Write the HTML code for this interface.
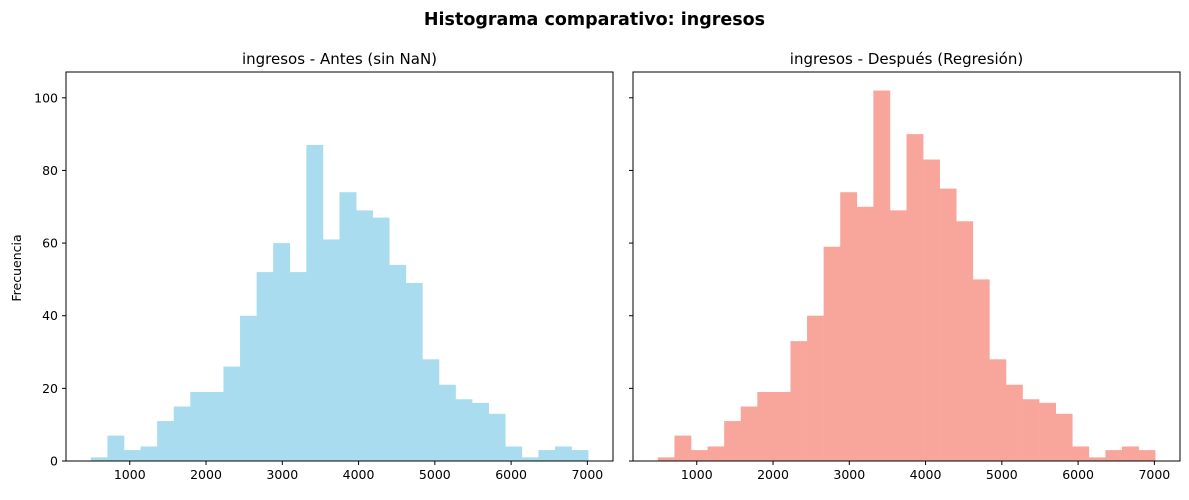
<!DOCTYPE html>
<html><head><meta charset="utf-8"><style>
body{margin:0;background:#fff;font-family:"Liberation Sans","DejaVu Sans",sans-serif}
svg text{font-family:"DejaVu Sans","Liberation Sans",sans-serif}
</style></head><body>
<svg id="fig" width="1189" height="495" viewBox="0 0 1189 495">
<rect width="1189" height="495" fill="#fff"/>
<text x="594.5" y="25" text-anchor="middle" font-size="17.5" font-weight="bold">Histograma comparativo: ingresos</text>
<text transform="translate(21,268) rotate(-90)" text-anchor="middle" font-size="12.5">Frecuencia</text>
</svg>
<script>
const binStart = 490;
const binEnd = 7010;
const countsBefore = [1,7,3,4,11,15,19,19,26,40,52,60,52,87,61,74,69,67,54,49,28,21,17,16,13,4,1,3,4,3];
const countsAfter = [1,7,3,4,11,15,19,19,33,40,59,74,70,102,69,90,83,75,66,50,28,21,17,16,13,4,1,3,4,3];
const xTicks = [1000,2000,3000,4000,5000,6000,7000];
const yTicks = [0,20,40,60,80,100];
const titles = ["ingresos - Antes (sin NaN)","ingresos - Después (Regresión)"];

const SVGNS="http://www.w3.org/2000/svg";
const figSvg=document.getElementById('fig');
function mk(tag,attrs,parent){const e=document.createElementNS(SVGNS,tag);for(const k in attrs)e.setAttribute(k,attrs[k]);(parent||figSvg).appendChild(e);return e;}
const yMaxV=107.1, plotTop=72, plotBottom=461;
const xMarginV=(binEnd-binStart)*0.05;
const xMinV=binStart-xMarginV, xMaxV=binEnd+xMarginV;
function drawPanel(idx,left,right,counts,color,showLabels){
  const g=mk('g',{});
  
  
  const xs=v=>left+(v-xMinV)/(xMaxV-xMinV)*(right-left);
  const ys=v=>plotBottom-v/yMaxV*(plotBottom-plotTop);
  const n=counts.length, w=(binEnd-binStart)/n;
  counts.forEach((c,i)=>{
    const x0=xs(binStart+i*w), x1=xs(binStart+(i+1)*w);
    const r=mk('rect',{x:x0,y:ys(c),width:x1-x0+0.3,height:plotBottom-ys(c),fill:color},g);
    
    
  });
  const fr=mk('rect',{x:left,y:plotTop,width:right-left,height:plotBottom-plotTop,fill:'none',stroke:'#000','stroke-width':1},g);
  
  
  xTicks.forEach(t=>{
    const x=xs(t);
    mk('line',{x1:x,x2:x,y1:plotBottom,y2:plotBottom+4,stroke:'#000'},g);
    const tx=mk('text',{x:x,y:plotBottom+18,'text-anchor':'middle','font-size':12.5},g);
    tx.textContent=t;
    
    
  });
  yTicks.forEach(t=>{
    const y=ys(t);
    mk('line',{x1:left-4,x2:left,y1:y,y2:y,stroke:'#000'},g);
    if(showLabels){
      const tx=mk('text',{x:left-8,y:y+4.5,'text-anchor':'end','font-size':12.5},g);
      tx.textContent=t;
      
      
    }
  });
  const ti=mk('text',{x:(left+right)/2,y:64,'text-anchor':'middle','font-size':15},g);
  ti.textContent=titles[idx];
  
  
}
drawPanel(0,66,613,countsBefore,'#a8dcee',true);
drawPanel(1,633,1180,countsAfter,'#f8a69b',false);
</script>
</body></html>
